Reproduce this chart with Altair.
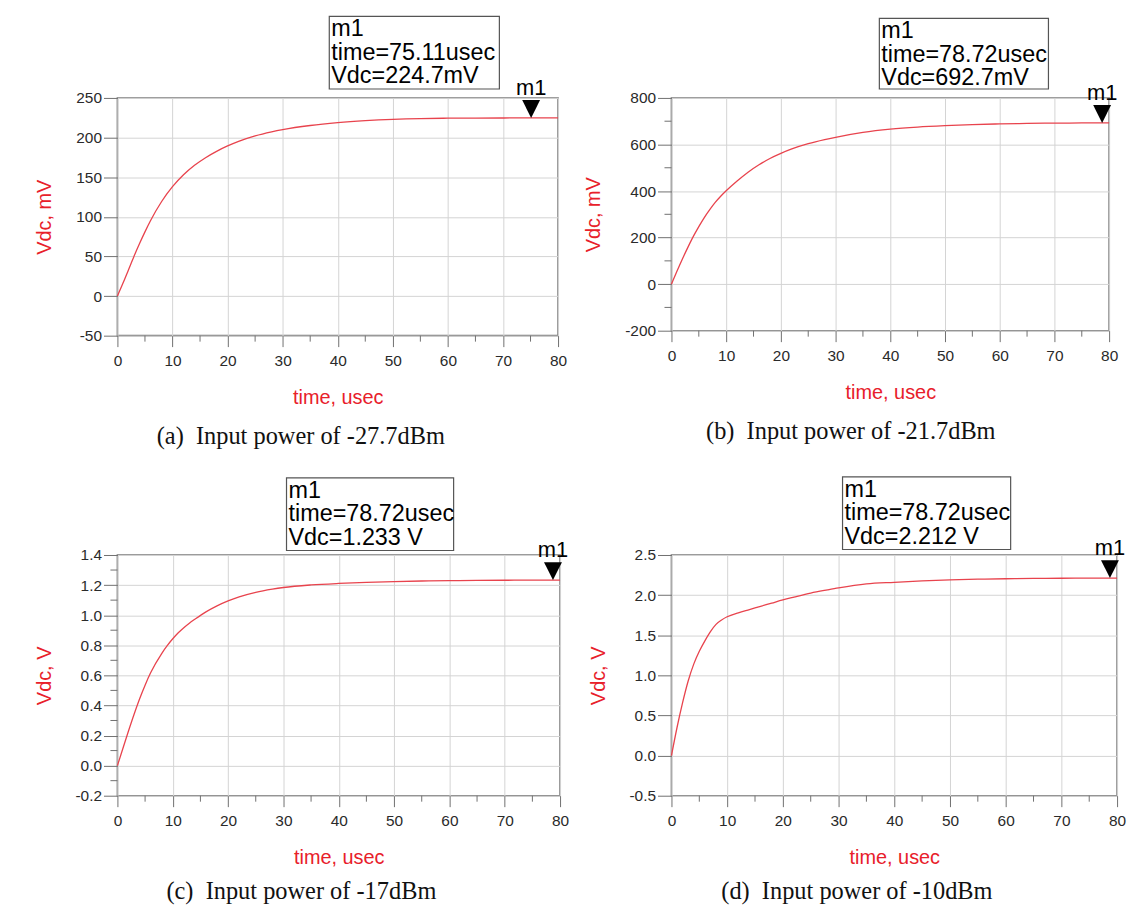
import altair as alt
import pandas as pd

# ---------------- data ----------------
time_a = [0, 1, 2, 3, 4, 5, 6, 8, 10, 12, 14, 16, 18, 20, 22, 25, 28, 30, 35, 40, 45, 50, 55, 60, 65, 70, 75, 80]
vdc_a = [0, 16, 33, 50, 66, 81, 95, 119, 138, 153, 165, 174.6, 182.6, 189.4, 195.2, 202.1, 207.2, 210, 215.2,
         218.8, 221.3, 223.0, 224.0, 224.4, 224.6, 224.7, 224.75, 224.8]

time_b = [0, 1, 2, 3, 4, 5, 6, 7, 8, 9, 10, 12, 14, 16, 18, 20, 22, 25, 28, 30, 35, 40, 45, 50, 55, 60, 65, 70,
          75, 80]
vdc_b = [0, 55, 108, 158, 205, 247, 286, 320, 351, 377.5, 401, 443, 481, 513, 540, 562, 581, 603.5, 621, 631,
         652, 666, 675, 681, 685.5, 688.5, 690.5, 691.8, 692.4, 692.8]

time_c = [0, 1, 2, 3, 4, 5, 6, 8, 9, 10, 11, 12, 13, 14, 16, 18, 20, 22, 25, 28, 30, 35, 40, 45, 50, 55, 60, 65,
          70, 75, 80]
vdc_c = [0, 0.115, 0.23, 0.34, 0.443, 0.535, 0.617, 0.745, 0.797, 0.843, 0.883, 0.917, 0.947, 0.973, 1.022,
         1.062, 1.095, 1.122, 1.152, 1.173, 1.184, 1.201, 1.211, 1.218, 1.223, 1.227, 1.229, 1.231, 1.232, 1.233,
         1.233]

time_d = [0, 1, 2, 3, 4, 5, 6, 7, 8, 9, 10, 12, 14, 16, 18, 20, 22, 25, 28, 30, 35, 40, 45, 50, 55, 60, 65, 70, 75, 80]
vdc_d = [0, 0.35, 0.66, 0.93, 1.14, 1.30, 1.43, 1.545, 1.635, 1.69, 1.73, 1.78, 1.82, 1.86, 1.90, 1.94, 1.975,
         2.025, 2.065, 2.09, 2.14, 2.16, 2.177, 2.19, 2.198, 2.204, 2.208, 2.21, 2.211, 2.212]

panel_letters = ["a", "b", "c", "d"]
input_power = ["-27.7dBm", "-21.7dBm", "-17dBm", "-10dBm"]
marker_name = "m1"
marker_time = [75.11, 78.72, 78.72, 78.72]
marker_time_label = ["75.11usec", "78.72usec", "78.72usec", "78.72usec"]
marker_vdc = [224.7, 692.7, 1.233, 2.212]
marker_vdc_label = ["224.7mV", "692.7mV", "1.233 V", "2.212 V"]

x_title = "time, usec"
y_titles = ["Vdc, mV", "Vdc, mV", "Vdc, V", "Vdc, V"]
x_domain = [0, 80]
x_major = [0, 10, 20, 30, 40, 50, 60, 70, 80]
x_minor = [5, 15, 25, 35, 45, 55, 65, 75]
y_domains = [[-50, 250], [-200, 800], [-0.2, 1.4], [-0.5, 2.5]]
y_major = [
    [-50, 0, 50, 100, 150, 200, 250],
    [-200, 0, 200, 400, 600, 800],
    [-0.2, 0.0, 0.2, 0.4, 0.6, 0.8, 1.0, 1.2, 1.4],
    [-0.5, 0.0, 0.5, 1.0, 1.5, 2.0, 2.5],
]
y_minor = [
    [],
    [-100, 100, 300, 500, 700],
    [-0.1, 0.1, 0.3, 0.5, 0.7, 0.9, 1.1, 1.3],
    [],
]
y_formats = ["d", "d", ".1f", ".1f"]

times = [time_a, time_b, time_c, time_d]
vdcs = [vdc_a, vdc_b, vdc_c, vdc_d]

# ---------------- styling ----------------
widths = [443, 440, 445, 448]
heights = [239, 234, 242, 242]
caption_offsets = [17, 17, 12, 12]
# marker box (pixels relative to the plot area): x1, x2, y1, y2
boxes = [(213, 384, -82, -9), (209, 379, -80, -9), (170, 338, -77.5, -4.5), (172, 341, -78.5, -5.5)]

LINE_RED = "#e8434d"
TITLE_RED = "#e8202a"
TICK_GRAY = "#707070"
SANS = "Liberation Sans"
SERIF = "Liberation Serif"
MINUS_FIX = "replace(datum.label, '\u2212', '-')"


def panel(i):
    w, h = widths[i], heights[i]
    xs = alt.Scale(domain=x_domain, nice=False, zero=False)
    ys = alt.Scale(domain=y_domains[i], nice=False, zero=False)
    xaxis = alt.Axis(values=x_major, tickSize=11, labelPadding=7, titlePadding=19,
                     labelFlush=False, labelOverlap=False, format="d")
    yaxis = alt.Axis(values=y_major[i], tickSize=14, labelPadding=2, titlePadding=21,
                     labelFlush=False, labelOverlap=False, format=y_formats[i], labelExpr=MINUS_FIX)

    def X(field):
        return alt.X(field, scale=xs, title=x_title, axis=xaxis)

    def Y(field):
        return alt.Y(field, scale=ys, title=y_titles[i], axis=yaxis)

    df = pd.DataFrame({"time": times[i], "vdc": vdcs[i]})
    line = alt.Chart(df).mark_line(color=LINE_RED, strokeWidth=1.3, interpolate="monotone").encode(
        x=X("time:Q"), y=Y("vdc:Q"),
    )
    layers = [line]

    mx = alt.Chart(pd.DataFrame({"time": x_minor})).mark_rule(color=TICK_GRAY, strokeWidth=1).encode(
        x=X("time:Q"), y=alt.value(h), y2=alt.value(h + 6),
    )
    layers.append(mx)

    if y_minor[i]:
        my = alt.Chart(pd.DataFrame({"vdc": y_minor[i]})).mark_rule(color=TICK_GRAY, strokeWidth=1).encode(
            y=Y("vdc:Q"), x=alt.value(-7), x2=alt.value(0),
        )
        layers.append(my)

    mdf = pd.DataFrame({"time": [marker_time[i]], "vdc": [marker_vdc[i]], "name": [marker_name]})
    tri = alt.Chart(mdf).mark_point(shape="M-1,-2L1,-2L0,0Z", filled=True, color="black",
                                    size=324, opacity=1).encode(
        x=X("time:Q"), y=Y("vdc:Q"),
    )
    mtxt = alt.Chart(mdf).mark_text(font=SANS, fontSize=22, color="black", baseline="alphabetic",
                                    align="center", dy=-23).encode(
        x=X("time:Q"), y=Y("vdc:Q"), text="name:N",
    )
    layers += [tri, mtxt]

    bx1, bx2, by1, by2 = boxes[i]
    label = f"{marker_name}\ntime={marker_time_label[i]}\nVdc={marker_vdc_label[i]}"
    bdf = pd.DataFrame({"label": [label]})
    rect = alt.Chart(bdf).mark_rect(fill="white", stroke="#555555", strokeWidth=1.2).encode(
        x=alt.value(bx1), x2=alt.value(bx2), y=alt.value(by1), y2=alt.value(by2),
    )
    btxt = alt.Chart(bdf).mark_text(font=SANS, fontSize=23.5, color="black", align="left", baseline="top",
                                    lineBreak="\n", lineHeight=23.7).encode(
        x=alt.value(bx1 + 2), y=alt.value(by1 + 1), text="label:N",
    )
    layers += [rect, btxt]

    caption = f"({panel_letters[i]})\u00a0 Input power of {input_power[i]}"
    return alt.layer(*layers).properties(
        width=w, height=h,
        title=alt.TitleParams(text=caption, orient="bottom", anchor="middle", frame="bounds",
                              font=SERIF, fontSize=24.5, fontWeight="normal", color="#111111",
                              offset=caption_offsets[i]),
    )


chart = alt.concat(
    *[panel(i) for i in range(4)],
    columns=2,
    spacing={"row": 220.5, "column": 112},
    bounds="flush",
    align="each",
).properties(
    padding={"left": 25, "top": 4, "right": 5, "bottom": 5},
    background="white",
).configure_view(
    stroke="#7a7a7a", strokeWidth=1.6,
).configure_axis(
    domain=False,
    grid=True,
    gridColor="#d4d4d4",
    gridWidth=1,
    tickColor=TICK_GRAY,
    tickWidth=1,
    labelFont=SANS,
    labelFontSize=15.5,
    labelColor="#2a2a2a",
    titleFont=SANS,
    titleFontSize=20,
    titleFontWeight="normal",
    titleColor=TITLE_RED,
)

chart.save("out.html", embed_options={"renderer": "svg", "actions": False})
